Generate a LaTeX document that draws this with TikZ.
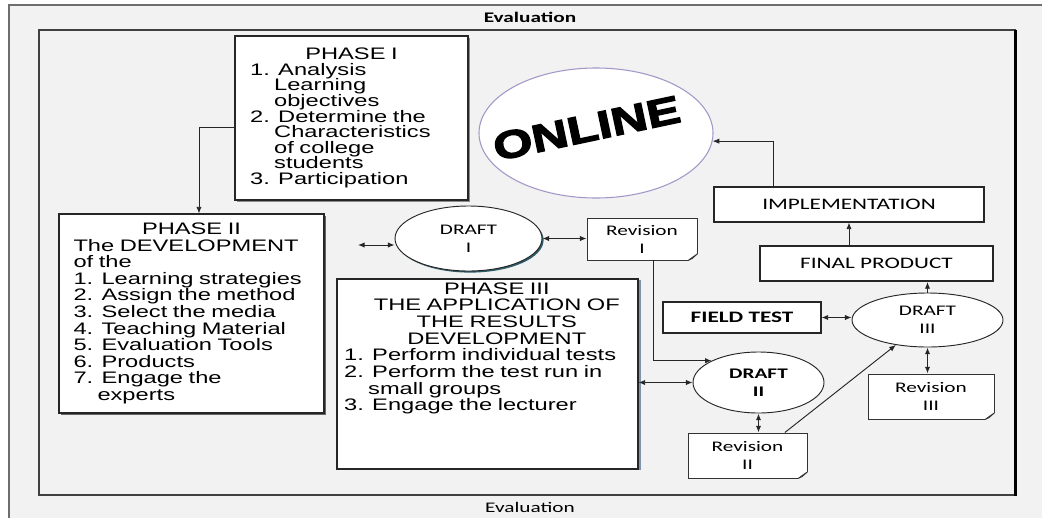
\documentclass[tikz,border=0pt]{standalone}
\usepackage{fontspec}
\setmainfont{Liberation Sans}[FakeStretch=1.42]
\newfontfamily\calib{Carlito}[FakeStretch=1.45]
\newfontfamily\bigfont{Liberation Sans}[FakeStretch=1.3, BoldFeatures={FakeBold=3.5}]
\usetikzlibrary{shapes.geometric, shadows, arrows.meta}
\definecolor{bggray}{HTML}{F2F2F2}
\definecolor{framegray}{HTML}{6E6E6E}
\definecolor{onlineline}{HTML}{A497C8}
\definecolor{tealshadow}{HTML}{2E5C68}
\definecolor{blueshadow}{HTML}{7F92AE}
\newcommand{\indnt}{\hspace*{18pt}}
\newcommand{\headline}[1]{\makebox[\linewidth][c]{#1}}

\begin{document}
\begin{tikzpicture}[x=0.75pt, y=-0.75pt]
	\tikzstyle{phase}=[draw=black!85, fill=white, line width=0.8pt, align=left, inner ysep=3pt]
	\tikzstyle{draft}=[ellipse, draw=black!85, fill=white, line width=0.7pt, inner sep=0pt, align=center, font=\calib\fontsize{11}{13.5}\selectfont]
	\tikzstyle{rev}=[draw=black!80, fill=white, line width=0.7pt, inner sep=0pt, align=center, font=\calib\fontsize{11}{13.5}\selectfont]
	\tikzstyle{lbl}=[draw=black!85, fill=white, line width=0.8pt, inner sep=0pt, font=\calib\fontsize{12}{14}\selectfont]
	\tikzstyle{arr}=[-{Latex[length=5pt,width=4pt]}, line width=0.7pt, black!85]
	\tikzstyle{dbl}=[{Latex[length=5pt,width=4pt]}-{Latex[length=5pt,width=4pt]}, line width=0.7pt, black!85]

	\useasboundingbox (0,0) rectangle (1042,518);
	\fill[white] (0,0) rectangle (1042,518);
	\fill[bggray] (9,5) rectangle (1042,518);
	\draw[framegray, line width=1pt] (9,518) -- (9,5) -- (1042,5);
	\draw[black!75, line width=0.9pt] (39,30) rectangle (1015,495);
	\draw[black, line width=1.6pt] (1015.5,30) -- (1015.5,495.5);

	\node (evtop) at (530,17) {\calib\bfseries\fontsize{11}{13}\selectfont Evaluation};
	\node (evbot) at (530,507) {\calib\fontsize{11}{13}\selectfont Evaluation};

	% phases
	\node[phase, minimum width=174.75pt, minimum height=123pt, text width=152pt, inner xsep=11.25pt,
		font=\fontsize{12.5}{11.7}\selectfont, drop shadow={shadow xshift=1.5pt, shadow yshift=-1.5pt, fill=black!45, opacity=1}] (p1) at (351.5,118)
		{\headline{PHASE I}\\1. Analysis\\\indnt Learning\\\indnt objectives\\2. Determine the\\\indnt Characteristics\\\indnt of college\\\indnt students\\3. Participation};
	\node[phase, minimum width=198.75pt, minimum height=149.25pt, text width=177pt, inner xsep=10.5pt,
		font=\fontsize{12.5}{12.45}\selectfont, drop shadow={shadow xshift=1.5pt, shadow yshift=-1.5pt, fill=black!60, opacity=1}] (p2) at (191.5,313.5)
		{\headline{PHASE II}\\The DEVELOPMENT\\of the\\1. Learning strategies\\2. Assign the method\\3. Select the media\\4. Teaching Material\\5. Evaluation Tools\\6. Products\\7. Engage the\\\indnt experts};
	\node[phase, minimum width=225.75pt, minimum height=142.5pt, text width=215pt, inner xsep=5pt, inner ysep=1pt,
		font=\fontsize{12.5}{12.5}\selectfont, drop shadow={shadow xshift=2pt, shadow yshift=-1pt, fill=blueshadow, opacity=1}] (p3) at (487.5,374)
		{\headline{\hspace*{14pt}PHASE III}\\\headline{\hspace*{14pt}THE APPLICATION OF}\\\headline{\hspace*{14pt}THE RESULTS}\\\headline{\hspace*{14pt}DEVELOPMENT}\\1. Perform individual tests\\2. Perform the test run in\\\indnt small groups\\3. Engage the lecturer\par\vspace*{28.5pt}\null};

	\node[ellipse, draw=onlineline, fill=white, line width=0.8pt, minimum width=175.5pt, minimum height=97.5pt, inner sep=0pt] (online) at (596,133)
		{\makebox[0pt]{\smash{\raisebox{-21pt}{\rotatebox{12}{\bigfont\bfseries\fontsize{29}{29}\selectfont ONLINE}}}\hspace*{14pt}}};

	% drafts and revisions
	\node[draft, minimum width=110.25pt, minimum height=48.75pt, drop shadow={shadow xshift=1.2pt, shadow yshift=-1.2pt, fill=tealshadow, opacity=1}] (d1) at (468.5,238.5) {DRAFT\\I};
	\node[draft, minimum width=98.25pt, minimum height=45.75pt, font=\calib\bfseries\fontsize{11}{13.5}\selectfont] (d2) at (758.5,382.5) {DRAFT\\II};
	\node[draft, minimum width=113.25pt, minimum height=40.5pt] (d3) at (927.5,320) {DRAFT\\III};
	\node[rev, minimum width=82.5pt, minimum height=31.5pt] (r1) at (642,239) {Revision\\I};
	\node[rev, minimum width=89.25pt, minimum height=33.75pt] (r2) at (747.5,455.5) {Revision\\II};
	\node[rev, minimum width=94.5pt, minimum height=33.75pt] (r3) at (931,396.5) {Revision\\III};
	\foreach \r in {r1,r2,r3} {
		\fill[bggray] ([xshift=-7pt,yshift=-1pt]\r.south east) -- ([xshift=1pt,yshift=-1pt]\r.south east) -- ([xshift=1pt,yshift=5pt]\r.south east) -- ([yshift=5pt]\r.south east) -- ([xshift=-7pt]\r.south east) -- cycle;
		\draw[black!80, line width=0.7pt, fill=black!15, line join=round] ([xshift=-7pt]\r.south east) -- ([yshift=5pt]\r.south east) -- ([xshift=-4pt,yshift=1.5pt]\r.south east) -- cycle;
	}

	\node[lbl, minimum width=202.5pt, minimum height=26.25pt] (impl) at (849,204.5) {IMPLEMENTATION};
	\node[lbl, minimum width=174.75pt, minimum height=26.25pt, line width=1.6pt] (final) at (876.5,263.5) {FINAL PRODUCT};
	\node[lbl, minimum width=118.5pt, minimum height=23.25pt, font=\calib\bfseries\fontsize{12}{14}\selectfont] (field) at (742,317.5) {FIELD TEST};

	% connectors
	\draw[arr] ([yshift=-6.75pt]p1.west) -| ([xshift=5.6pt]p2.north);
	\draw[arr] ([xshift=-57pt]impl.north) |- (online.-4);
	\draw[arr] (final.north -| impl.south) -- (impl.south);
	\draw[arr] (d3.north) -- (d3.north |- final.south);
	\draw[dbl] (field.east) -- (field.east -| d3.west);
	\draw[dbl, line width=1.4pt] (d3.south) -- (d3.south |- r3.north);
	\draw[arr] ([xshift=8.25pt]r1.south) |- (d2.155);
	\draw[dbl] (p3.east |- d2.west) -- (d2.west);
	\draw[dbl, line width=1.4pt] (d2.south) -- (d2.south |- r2.north);
	\draw[arr] ([xshift=28pt]r2.north) -- (d3);
	\coordinate (d1in) at (358,245);
	\draw[dbl] (d1in) -- (d1in -| d1.west);
	\draw[dbl] (d1.east) -- (d1.east -| r1.west);
\end{tikzpicture}
\end{document}
